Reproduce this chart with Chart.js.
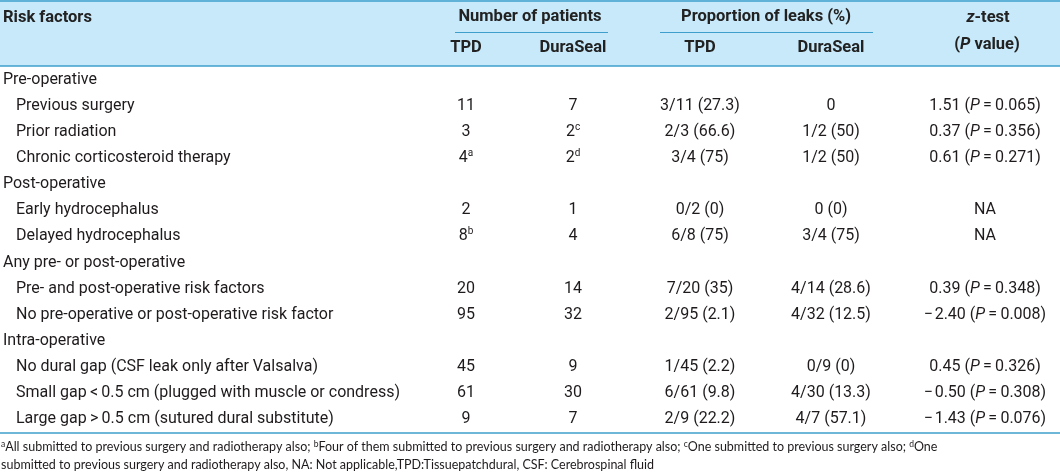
<!DOCTYPE html>
<html>
<head>
<meta charset="utf-8">
<script src="https://cdn.jsdelivr.net/npm/chart.js@4.4.1/dist/chart.umd.min.js"></script>
<style>
  html, body { margin: 0; padding: 0; background: #fff; }
  canvas { display: block; }
</style>
</head>
<body>
<canvas id="tbl" width="1060" height="473"></canvas>
<script>
// ---------- data ----------
const rowLabels = [
  "Pre-operative",
  "Previous surgery",
  "Prior radiation",
  "Chronic corticosteroid therapy",
  "Post-operative",
  "Early hydrocephalus",
  "Delayed hydrocephalus",
  "Any pre- or post-operative",
  "Pre- and post-operative risk factors",
  "No pre-operative or post-operative risk factor",
  "Intra-operative",
  "No dural gap (CSF leak only after Valsalva)",
  "Small gap\u2009<\u20090.5 cm (plugged with muscle or condress)",
  "Large gap\u2009>\u20090.5 cm (sutured dural substitute)"
];
const groupRows = [true, false, false, false, true, false, false, true, false, false, true, false, false, false];

const tpdPatients  = [null, 11, 3, 4, null, 2, 8, null, 20, 95, null, 45, 61, 9];
const tpdSup       = [null, "", "", "a", null, "", "b", null, "", "", null, "", "", ""];
const duraPatients = [null, 7, 2, 2, null, 1, 4, null, 14, 32, null, 9, 30, 7];
const duraSup      = [null, "", "c", "d", null, "", "", null, "", "", null, "", "", ""];

const tpdLeaks  = [null, "3/11 (27.3)", "2/3 (66.6)", "3/4 (75)", null, "0/2 (0)", "6/8 (75)", null,
                   "7/20 (35)", "2/95 (2.1)", null, "1/45 (2.2)", "6/61 (9.8)", "2/9 (22.2)"];
const duraLeaks = [null, "0", "1/2 (50)", "1/2 (50)", null, "0 (0)", "3/4 (75)", null,
                   "4/14 (28.6)", "4/32 (12.5)", null, "0/9 (0)", "4/30 (13.3)", "4/7 (57.1)"];

const zScores = [null, 1.51, 0.37, 0.61, null, null, null, null, 0.39, -2.40, null, 0.45, -0.50, -1.43];
const pValues = [null, 0.065, 0.356, 0.271, null, null, null, null, 0.348, 0.008, null, 0.326, 0.308, 0.076];

const headFirst  = "Risk factors";
const headGroups = ["Number of patients", "Proportion of leaks (%)"];
const headSub    = ["TPD", "DuraSeal", "TPD", "DuraSeal"];

const footLine1 = [
  ["a", true], ["All submitted to previous surgery and radiotherapy also; ", false],
  ["b", true], ["Four of them submitted to previous surgery and radiotherapy also; ", false],
  ["c", true], ["One submitted to previous surgery also; ", false],
  ["d", true], ["One", false]
];
const footLine2 = "submitted to previous surgery and radiotherapy also, NA: Not applicable,TPD:Tissuepatchdural, CSF: Cerebrospinal fluid";

// ---------- layout / style ----------
const FONT = "Roboto, 'Liberation Sans', Arial, sans-serif";
const FOOT_FONT = "Lato, 'Open Sans', sans-serif";
const TEXT = "#1f1b1c";
const LINE = "#3f9fcc";
const HEAD_BG = "#c8e9f9";
const colX = [466, 573, 700, 831, 985];   // column centres (x scale units = px)
const groupX = [530, 766];
const subLines = [[455, 608], [660, 873]];
const HEAD_BOTTOM = 66;
const BODY_BOTTOM = 433;

// ---------- helpers ----------
function drawRuns(ctx, runs, x, y, align) {
  // runs: [{t, font, dy}]
  let total = 0;
  runs.forEach(r => { ctx.font = r.font; r.w = ctx.measureText(r.t).width; total += r.w; });
  let cx = align === "center" ? x - total / 2 : (align === "right" ? x - total : x);
  ctx.textAlign = "left";
  runs.forEach(r => {
    ctx.font = r.font;
    ctx.fillText(r.t, cx, y + (r.dy || 0));
    cx += r.w;
  });
}

function numRuns(n, sup) {
  const runs = [{ t: String(n), font: "16px " + FONT }];
  if (sup) runs.push({ t: sup, font: "10px " + FONT, dy: -5 });
  return runs;
}

function zRuns(z, p) {
  const f = "16px " + FONT;
  const zs = z < 0 ? "\u2212\u200a" + Math.abs(z).toFixed(2) : z.toFixed(2);
  return [
    { t: zs + " (", font: f },
    { t: "P", font: "italic 16px " + FONT },
    { t: "\u2009=\u2009" + p.toFixed(3) + ")", font: f }
  ];
}

// ---------- table plugin ----------
const tablePlugin = {
  id: "tableDraw",
  beforeDraw(chart) {
    const ctx = chart.ctx;
    ctx.save();
    ctx.fillStyle = "#fff";
    ctx.fillRect(0, 0, chart.width, chart.height);
    ctx.fillStyle = HEAD_BG;
    ctx.fillRect(0, 0, chart.width, HEAD_BOTTOM);
    ctx.restore();
  },
  afterDraw(chart) {
    const ctx = chart.ctx;
    const xs = chart.scales.x, ys = chart.scales.y;
    ctx.save();

    // rules
    ctx.strokeStyle = LINE;
    ctx.lineWidth = 1.5;
    [[0, chart.width, 1], [0, chart.width, HEAD_BOTTOM], [0, chart.width, BODY_BOTTOM]].forEach(l => {
      ctx.beginPath(); ctx.moveTo(l[0], l[2]); ctx.lineTo(l[1], l[2]); ctx.stroke();
    });
    ctx.lineWidth = 1;
    subLines.forEach(l => {
      ctx.beginPath(); ctx.moveTo(xs.getPixelForValue(l[0]), 32.5); ctx.lineTo(xs.getPixelForValue(l[1]), 32.5); ctx.stroke();
    });

    // header
    ctx.fillStyle = "#222";
    ctx.textBaseline = "middle";
    const hb = "bold 16.5px " + FONT, hbi = "italic bold 16.5px " + FONT;
    drawRuns(ctx, [{ t: headFirst, font: hb }], 3, 18, "left");
    headGroups.forEach((h, i) => drawRuns(ctx, [{ t: h, font: hb }], xs.getPixelForValue(groupX[i]), 17, "center"));
    headSub.forEach((h, i) => drawRuns(ctx, [{ t: h, font: hb }], xs.getPixelForValue(colX[i]), 48, "center"));
    drawRuns(ctx, [{ t: "z", font: hbi }, { t: "-test", font: hb }], xs.getPixelForValue(colX[4] + 3), 18, "center");
    drawRuns(ctx, [{ t: "(", font: hb }, { t: "P", font: hbi }, { t: " value)", font: hb }],
      xs.getPixelForValue(colX[4] + 2), 45, "center");

    // body
    ctx.fillStyle = TEXT;
    const f = "16px " + FONT;
    rowLabels.forEach((label, i) => {
      const y = ys.getPixelForValue(i);
      drawRuns(ctx, [{ t: label, font: f }], groupRows[i] ? 3 : 16, y, "left");
      if (groupRows[i]) return;
      drawRuns(ctx, numRuns(tpdPatients[i], tpdSup[i]), xs.getPixelForValue(colX[0]), y, "center");
      drawRuns(ctx, numRuns(duraPatients[i], duraSup[i]), xs.getPixelForValue(colX[1]), y, "center");
      drawRuns(ctx, [{ t: tpdLeaks[i], font: f }], xs.getPixelForValue(colX[2]), y, "center");
      drawRuns(ctx, [{ t: duraLeaks[i], font: f }], xs.getPixelForValue(colX[3]), y, "center");
      const zr = zScores[i] === null ? [{ t: "NA", font: f }] : zRuns(zScores[i], pValues[i]);
      drawRuns(ctx, zr, xs.getPixelForValue(colX[4]), y, "center");
    });

    // footnotes
    const ff = "12.5px " + FOOT_FONT, fs = "8.5px " + FOOT_FONT;
    drawRuns(ctx, footLine1.map(s => ({ t: s[0], font: s[1] ? fs : ff, dy: s[1] ? -3 : 0 })), 1, 447, "left");
    drawRuns(ctx, [{ t: footLine2, font: ff }], 1, 465, "left");

    ctx.restore();
  }
};

// ---------- chart ----------
new Chart(document.getElementById("tbl"), {
  type: "scatter",
  data: { labels: rowLabels, datasets: [] },
  options: {
    responsive: false,
    animation: false,
    layout: { padding: { top: HEAD_BOTTOM + 1, bottom: 473 - BODY_BOTTOM + 1, left: 0, right: 0 } },
    plugins: { legend: { display: false }, tooltip: { enabled: false } },
    scales: {
      x: { type: "linear", min: 0, max: 1060, display: false },
      y: { type: "category", labels: rowLabels, offset: true, display: false }
    }
  },
  plugins: [tablePlugin]
});
</script>
</body>
</html>
